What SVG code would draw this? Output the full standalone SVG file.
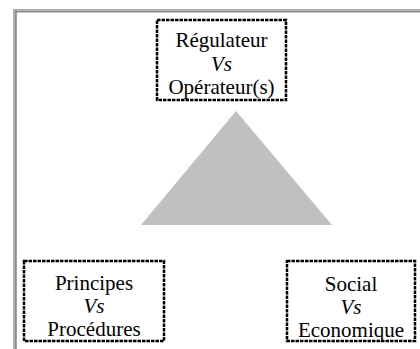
<svg xmlns="http://www.w3.org/2000/svg" width="420" height="349" viewBox="0 0 420 349">
<style>
.box{fill:#fff;stroke:#000;stroke-width:2.5;stroke-dasharray:3.5 1}
.t{font-family:"Liberation Serif","Times New Roman",serif;font-size:21px;fill:#000;text-anchor:middle}
.i{font-style:italic}
</style>
<rect width="420" height="349" fill="#fff"/>
<g id="frame">
<rect x="13" y="9" width="407" height="1.5" fill="#b0b0b0"/>
<rect x="13" y="9" width="1.8" height="340" fill="#b0b0b0"/>
<rect x="14.8" y="10.5" width="405.2" height="2" fill="#8c8c8c"/>
<rect x="14.8" y="10.5" width="2" height="338.5" fill="#8c8c8c"/>
</g>
<g id="triangle">
<polygon points="236,111 332,225 141,225" fill="#c0c0c0"/>
</g>
<g id="connectors"></g>
<g id="node-regulateur">
<rect class="box" x="157" y="20" width="129" height="80"/>
<text class="t" x="221.5" y="47">Régulateur</text>
<text class="t i" x="221.5" y="71">Vs</text>
<text class="t" x="221.5" y="94">Opérateur(s)</text>
</g>
<g id="node-principes">
<rect class="box" x="24" y="261" width="140" height="80"/>
<text class="t" x="94" y="290">Principes</text>
<text class="t i" x="94" y="313">Vs</text>
<text class="t" x="94" y="336">Procédures</text>
</g>
<g id="node-social">
<rect class="box" x="287" y="261" width="128" height="80"/>
<text class="t" x="351" y="291">Social</text>
<text class="t i" x="351" y="314">Vs</text>
<text class="t" x="351" y="337">Economique</text>
</g>
</svg>
